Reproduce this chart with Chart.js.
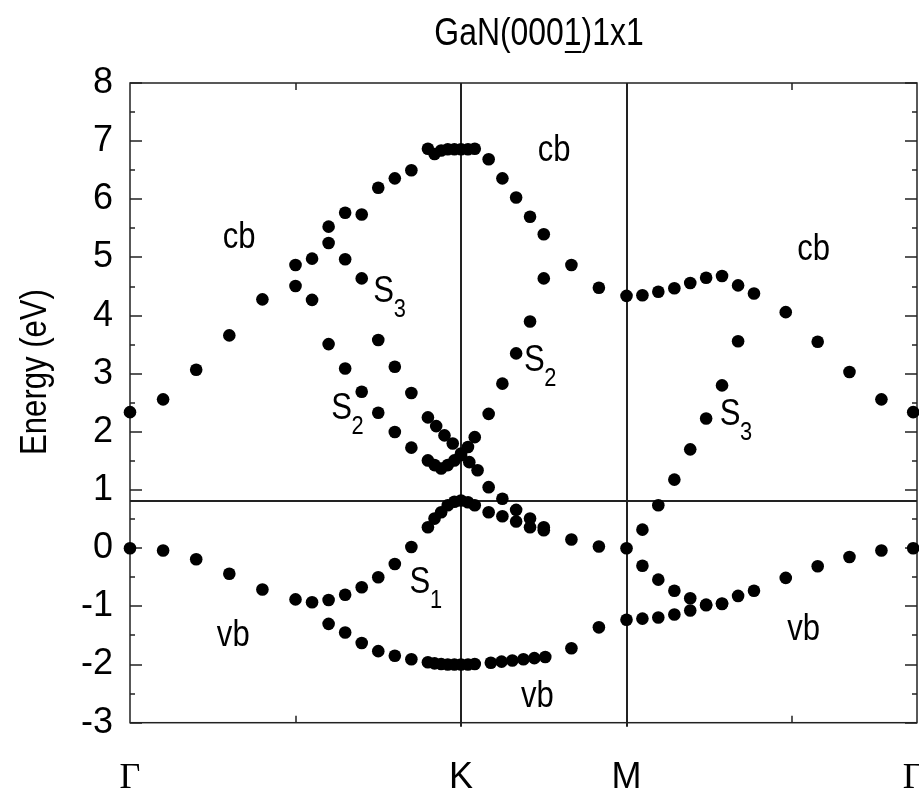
<!DOCTYPE html>
<html>
<head>
<meta charset="utf-8">
<script src="https://cdn.jsdelivr.net/npm/chart.js@4.4.0/dist/chart.umd.min.js"></script>
<style>
  html, body { margin: 0; padding: 0; background: #fff; overflow: hidden; }
  #wrap { width: 919px; height: 793px; position: relative; }
</style>
</head>
<body>
<div id="wrap"><canvas id="bands"></canvas></div>
<script>
// k-path Γ-K-M-Γ (K at 2, M at 3, Γ at 2+1+√3), energies in eV
const kPathLabels = ['Γ', 'K', 'M', 'Γ'];
const kPathTicks = [0, 2, 3, 4.732];
const kAxisMax = 4.755;
const fermiLevel = 0.82;

// lowest conduction band (cb)
const cbKx = [0, 0.2, 0.4, 0.6, 0.8, 1.0, 1.1, 1.2, 1.3, 1.4, 1.5, 1.6, 1.7, 1.8, 1.84, 1.88, 1.92, 1.96, 2.0,
  2.042, 2.083, 2.167, 2.25, 2.333, 2.417, 2.5, 2.667, 2.833, 3.0,
  3.096, 3.192, 3.289, 3.385, 3.481, 3.577, 3.674, 3.770, 3.962, 4.155, 4.347, 4.540, 4.732];
const cbE = [2.34, 2.56, 3.07, 3.66, 4.28, 4.87, 4.98, 5.53, 5.77, 5.74, 6.20, 6.36, 6.50, 6.87, 6.78, 6.84, 6.86, 6.86, 6.86,
  6.86, 6.87, 6.69, 6.36, 6.03, 5.70, 5.40, 4.87, 4.48, 4.34,
  4.35, 4.41, 4.47, 4.56, 4.65, 4.68, 4.52, 4.38, 4.06, 3.55, 3.03, 2.56, 2.34];

// S2 surface state
const s2Kx = [1.0, 1.1, 1.2, 1.3, 1.4, 1.5, 1.6, 1.7, 1.8, 1.84, 1.88, 1.92, 1.96, 2.0, 2.042, 2.083, 2.167, 2.25, 2.333, 2.417, 2.5];
const s2E = [4.51, 4.27, 3.51, 3.09, 2.69, 2.33, 2.00, 1.73, 1.51, 1.43, 1.37, 1.43, 1.51, 1.60, 1.74, 1.91, 2.31, 2.83, 3.35, 3.90, 4.64];

// S3 surface state, Γ-K-M part and M-Γ part
const s3Kx = [1.2, 1.3, 1.4, 1.5, 1.6, 1.7, 1.8, 1.85, 1.9, 1.95, 2.0, 2.05, 2.1, 2.167, 2.25, 2.333, 2.417, 2.5];
const s3E = [5.25, 4.97, 4.64, 3.58, 3.12, 2.67, 2.25, 2.10, 1.94, 1.80, 1.63, 1.48, 1.34, 1.05, 0.85, 0.66, 0.51, 0.36];
const s3MGKx = [3.096, 3.192, 3.289, 3.385, 3.481, 3.577, 3.674];
const s3MGE = [0.32, 0.74, 1.18, 1.70, 2.23, 2.80, 3.56];

// top valence band with S1 around K
const vbTopKx = [0, 0.2, 0.4, 0.6, 0.8, 1.0, 1.1, 1.2, 1.3, 1.4, 1.5, 1.6, 1.7, 1.8, 1.84, 1.88, 1.92, 1.96, 2.0,
  2.042, 2.083, 2.167, 2.25, 2.333, 2.417, 2.5, 2.667, 2.833, 3.0,
  3.096, 3.192, 3.289, 3.385, 3.481, 3.577, 3.674, 3.770, 3.962, 4.155, 4.347, 4.540, 4.732];
const vbTopE = [0.0, -0.04, -0.19, -0.44, -0.71, -0.88, -0.93, -0.89, -0.80, -0.67, -0.50, -0.27, 0.02, 0.36, 0.51, 0.62, 0.74, 0.80, 0.82,
  0.79, 0.74, 0.62, 0.55, 0.46, 0.36, 0.31, 0.15, 0.03, 0.0,
  -0.30, -0.54, -0.73, -0.86, -0.97, -0.95, -0.82, -0.73, -0.51, -0.31, -0.15, -0.04, 0.0];

// lower valence band
const vbLowKx = [1.2, 1.3, 1.4, 1.5, 1.6, 1.7, 1.8, 1.84, 1.88, 1.92, 1.96, 2.0, 2.042, 2.083,
  2.18, 2.245, 2.31, 2.377, 2.443, 2.509, 2.667, 2.833, 3.0,
  3.096, 3.192, 3.289, 3.385, 3.481, 3.577];
const vbLowE = [-1.30, -1.45, -1.63, -1.77, -1.85, -1.91, -1.96, -1.98, -1.99, -2.0, -2.0, -2.0, -2.0, -1.99,
  -1.97, -1.95, -1.93, -1.91, -1.89, -1.87, -1.72, -1.36, -1.23,
  -1.21, -1.19, -1.14, -1.07, -0.98, -0.96];

// band labels: [text, subscript, k, E]
const bandLabels = [
  ['cb', '', 0.66, 5.33], ['cb', '', 2.563, 6.83], ['cb', '', 4.13, 5.14],
  ['vb', '', 0.624, -1.50], ['vb', '', 2.461, -2.55], ['vb', '', 4.07, -1.41],
  ['S', '3', 1.533, 4.41], ['S', '2', 1.279, 2.40], ['S', '2', 2.443, 3.23],
  ['S', '3', 3.626, 2.30], ['S', '1', 1.752, -0.60]
];

const fontFamily = "'Liberation Sans', Arial, sans-serif";
const narrow = 0.84; // the original lettering is condensed

function toPoints(kx, e) {
  return kx.map((k, i) => ({ x: k, y: e[i] }));
}

function band(kx, e) {
  return {
    data: toPoints(kx, e),
    showLine: false,
    pointRadius: 6.3,
    pointHoverRadius: 6.3,
    pointBackgroundColor: '#000',
    pointBorderWidth: 0,
    clip: false
  };
}

// draw condensed text centred at (x, y)
function narrowText(ctx, txt, x, y, size) {
  ctx.save();
  ctx.translate(x, y);
  ctx.scale(narrow, 1);
  ctx.font = size + 'px ' + fontFamily;
  ctx.textAlign = 'center';
  ctx.textBaseline = 'middle';
  ctx.fillText(txt, 0, 0);
  ctx.restore();
}

const overlay = {
  id: 'overlay',
  beforeDatasetsDraw(chart) {
    const { ctx, chartArea: a, scales: { x, y } } = chart;
    ctx.save();
    ctx.strokeStyle = '#222';
    ctx.lineWidth = 2;
    ctx.beginPath();
    [kPathTicks[1], kPathTicks[2]].forEach(v => {
      const px = Math.round(x.getPixelForValue(v));
      ctx.moveTo(px, a.top);
      ctx.lineTo(px, a.bottom + 4);
    });
    const fy = Math.round(y.getPixelForValue(fermiLevel));
    ctx.moveTo(a.left, fy);
    ctx.lineTo(a.right, fy);
    ctx.stroke();

    // frame and inward ticks
    ctx.lineWidth = 1.5;
    ctx.strokeRect(a.left, a.top, a.right - a.left, a.bottom - a.top);
    ctx.beginPath();
    for (let v = -3; v <= 8; v += 0.5) {
      const py = Math.round(y.getPixelForValue(v));
      const len = Number.isInteger(v) ? 12 : 5;
      ctx.moveTo(a.left, py); ctx.lineTo(a.left + len, py);
      ctx.moveTo(a.right, py); ctx.lineTo(a.right - len, py);
    }
    [1, 2, 3, 4].forEach(v => {
      const px = Math.round(x.getPixelForValue(v));
      ctx.moveTo(px, a.top); ctx.lineTo(px, a.top + 7);
      ctx.moveTo(px, a.bottom); ctx.lineTo(px, a.bottom - 7);
    });
    ctx.stroke();
    ctx.restore();
  },
  afterDatasetsDraw(chart) {
    const { ctx, scales: { x, y } } = chart;
    ctx.save();
    ctx.fillStyle = '#000';

    // title, with the bar under the last index digit
    const title = 'GaN(0001)1x1';
    const tcx = 539, tcy = 35, tsize = 38;
    narrowText(ctx, title, tcx, tcy, tsize);
    ctx.font = tsize + 'px ' + fontFamily;
    const tw = ctx.measureText(title).width * narrow;
    const w0 = ctx.measureText('GaN(000').width * narrow;
    const w1 = ctx.measureText('1').width * narrow;
    ctx.fillRect(tcx - tw / 2 + w0 + 1, 51, w1 - 1, 2);

    // y axis title
    ctx.save();
    ctx.translate(36, 372);
    ctx.rotate(-Math.PI / 2);
    narrowText(ctx, 'Energy (eV)', 0, 0, 37);
    ctx.restore();

    // band labels
    bandLabels.forEach(([txt, sub, k, e]) => {
      const px = x.getPixelForValue(k);
      const py = y.getPixelForValue(e);
      narrowText(ctx, txt, px, py, 37);
      if (sub) narrowText(ctx, sub, px + 16, py + 18, 26);
    });
    ctx.restore();
  }
};

new Chart(document.getElementById('bands'), {
  type: 'scatter',
  data: {
    datasets: [
      band(cbKx, cbE),
      band(s2Kx, s2E),
      band(s3Kx, s3E),
      band(s3MGKx, s3MGE),
      band(vbTopKx, vbTopE),
      band(vbLowKx, vbLowE)
    ]
  },
  options: {
    responsive: true,
    maintainAspectRatio: false,
    animation: false,
    layout: { autoPadding: false, padding: { top: 83, right: 2, left: 0, bottom: 0 } },
    plugins: { legend: { display: false }, tooltip: { enabled: false } },
    scales: {
      x: {
        type: 'linear',
        min: 0,
        max: kAxisMax,
        afterBuildTicks: (s) => { s.ticks = kPathTicks.map(v => ({ value: v })); },
        afterFit: (s) => { s.height = 70.3; s.paddingLeft = 0; s.paddingRight = 0; },
        grid: { display: false, drawTicks: false },
        border: { display: false },
        ticks: {
          padding: 34,
          color: '#000',
          autoSkip: false,
          maxRotation: 0,
          font: (c) => ({ family: c.index === 0 || c.index === 3 ? "'Liberation Serif', serif" : fontFamily, size: 36 }),
          callback: (v, i) => kPathLabels[i]
        }
      },
      y: {
        min: -3,
        max: 8,
        afterFit: (s) => { s.width = 130; s.paddingTop = 0; s.paddingBottom = 0; },
        grid: { display: false, drawTicks: false },
        border: { display: false },
        ticks: { stepSize: 1, padding: 17, color: '#000', font: { family: fontFamily, size: 36 } }
      }
    }
  },
  plugins: [overlay]
});
</script>
</body>
</html>
